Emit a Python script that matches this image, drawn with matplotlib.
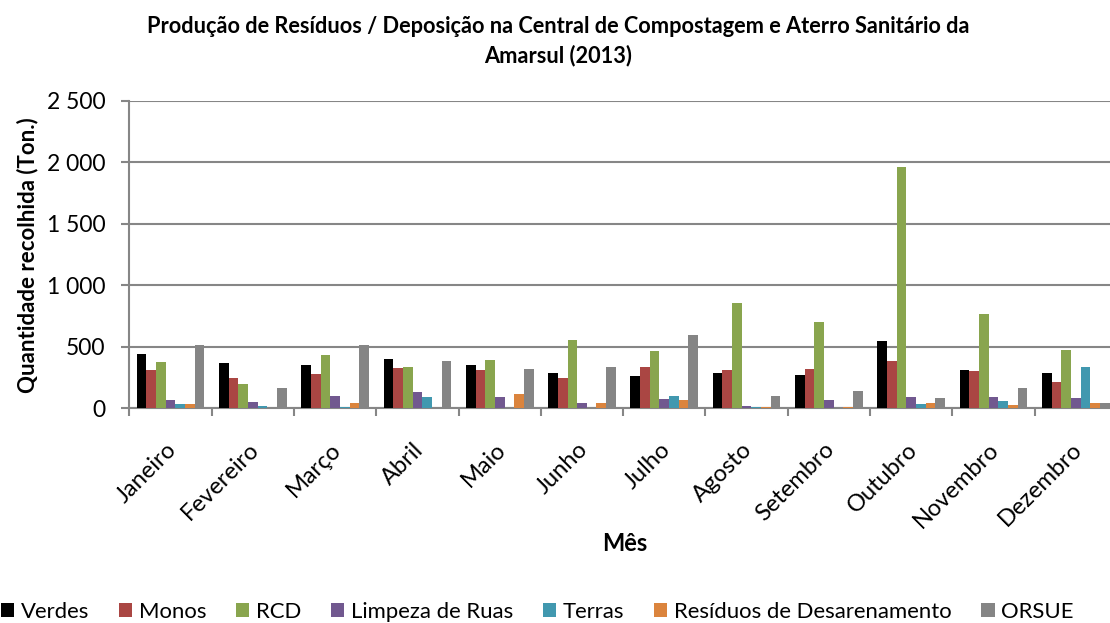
import matplotlib
matplotlib.use('Agg')
import matplotlib.pyplot as plt
from matplotlib.transforms import ScaledTranslation
import numpy as np

plt.rcParams['font.family'] = ['Lato', 'DejaVu Sans']

meses = ['Janeiro', 'Fevereiro', 'Março', 'Abril', 'Maio', 'Junho',
         'Julho', 'Agosto', 'Setembro', 'Outubro', 'Novembro', 'Dezembro']

# Toneladas por mês
verdes = [445, 372, 350, 399, 350, 287, 265, 287, 273, 549, 314, 290]
monos = [314, 246, 282, 325, 314, 246, 336, 314, 322, 383, 306, 216]
rcd = [380, 200, 432, 339, 391, 558, 467, 855, 705, 1960, 770, 473]
limpeza = [71, 55, 98, 134, 88, 47, 74, 22, 68, 88, 93, 82]
terras = [36, 16, 14, 88, 0, 0, 101, 14, 0, 38, 60, 336]
desarenamento = [33, 0, 47, 0, 115, 41, 71, 14, 14, 41, 27, 41]
orsue = [519, 167, 514, 388, 323, 333, 596, 98, 142, 85, 169, 47]

series = ['Verdes', 'Monos', 'RCD', 'Limpeza de Ruas', 'Terras',
          'Resíduos de Desarenamento', 'ORSUE']
valores = [verdes, monos, rcd, limpeza, terras, desarenamento, orsue]
cores = ['#000000', '#AA4643', '#89A54E', '#71588F', '#4198AF', '#DB843D', '#858585']

fig = plt.figure(figsize=(11.1, 6.23), dpi=100)
ax = fig.add_axes([0.1165, 0.3446, 0.8898, 0.4933])

x = np.arange(len(meses))
largura = 0.1174
for i, (nome, vals, cor) in enumerate(zip(series, valores, cores)):
    ax.bar(x + (i - 3) * largura, vals, largura, color=cor, label=nome, zorder=3)

ax.set_xlim(-0.5, 11.5)
ax.set_ylim(0, 2500)
ax.set_yticks(np.arange(0, 2501, 500))
ax.set_yticklabels(['0', '500', '1 000', '1 500', '2 000', '2 500'], fontsize=16.5)
ax.yaxis.grid(True, color='#868686', linewidth=1.5, zorder=0)

# ticks nas fronteiras, nomes dos meses ao centro
ax.set_xticks(np.arange(-0.5, 12, 1))
ax.set_xticklabels([])
ax.set_xticks(x, minor=True)
ax.set_xticklabels(meses, minor=True, rotation=45, ha='right', va='top',
                   rotation_mode='anchor', fontsize=17)
ax.tick_params(axis='x', which='minor', length=0, pad=22)
ax.tick_params(axis='x', which='major', length=6, width=1.5, color='#868686')
ax.tick_params(axis='y', length=6, width=1.5, color='#868686', pad=11)
desvio = ScaledTranslation(-0.05, 0, fig.dpi_scale_trans)
for lbl in ax.get_xticklabels(minor=True):
    lbl.set_transform(lbl.get_transform() + desvio)

for lado in ['top', 'right']:
    ax.spines[lado].set_visible(False)
for lado in ['left', 'bottom']:
    ax.spines[lado].set_color('#868686')
    ax.spines[lado].set_linewidth(1.5)

ax.set_ylabel('Quantidade recolhida (Ton.)', fontsize=16, fontweight='bold', labelpad=6)
fig.text(0.563, 0.128, 'Mês', ha='center', va='center', fontsize=17, fontweight='bold')

fig.text(0.503, 0.934, 'Produção de Resíduos / Deposição na Central de Compostagem e Aterro Sanitário da\nAmarsul (2013)',
         ha='center', va='center', fontsize=15.7, fontweight='bold', linespacing=1.42)

fig.legend(loc='center', bbox_to_anchor=(0.484, 0.018), ncol=7, frameon=False,
           fontsize=15.9, handlelength=0.6, handleheight=0.6, handletextpad=0.3,
           columnspacing=1.35, borderaxespad=0)

fig.savefig('out.png', dpi=100)
